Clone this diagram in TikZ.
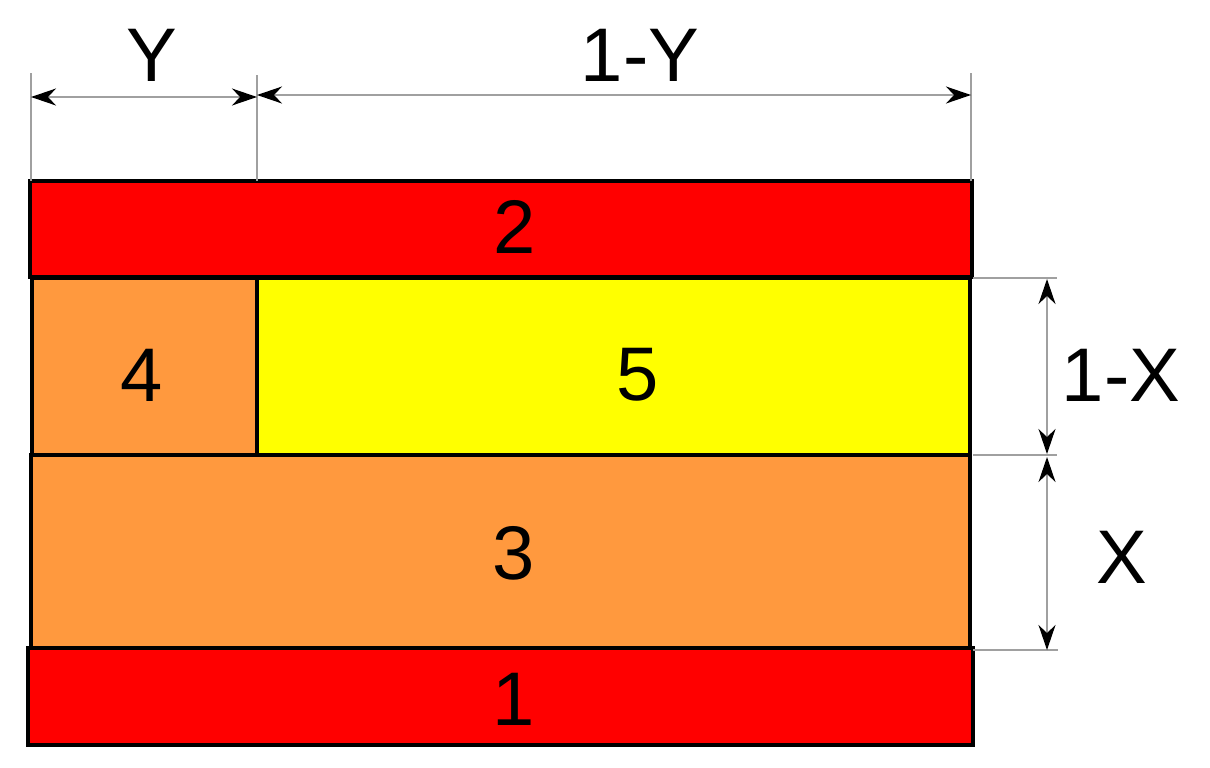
\documentclass[tikz,border=0pt]{standalone}
\usepackage{fontspec}
\setmainfont{Liberation Sans}
\usetikzlibrary{arrows.meta}
\definecolor{lred}{HTML}{FF0000}
\definecolor{lorange}{HTML}{FF993E}
\definecolor{lyellow}{HTML}{FFFF00}
\definecolor{dimgray}{HTML}{A0A0A0}
\begin{document}
\begin{tikzpicture}[x=0.5pt,y=-0.5pt,
  layer/.style={draw=black,line width=2.4pt,inner sep=0pt,outer sep=0pt,anchor=north west},
  lbl/.style={inner sep=0pt,font=\fontsize{38}{44}\selectfont},
  extline/.style={draw=dimgray,line width=0.75pt},
  dimarrow/.style={draw=dimgray,line width=0.75pt,{Stealth[black,length=12.5pt,width=8.5pt,inset=4pt]}-{Stealth[black,length=12.5pt,width=8.5pt,inset=4pt]}}]
\useasboundingbox (0,0) rectangle (1210,767);
% layers
\node[layer,fill=lorange,minimum width=469.5pt,minimum height=96.5pt] (r3) at (31,455) {};
\node[layer,fill=lorange,minimum width=112.5pt,minimum height=88.5pt] (r4) at (32,278) {};
\node[layer,fill=lyellow,minimum width=356.5pt,minimum height=88.5pt] (r5) at (257,278) {};
\node[layer,fill=lred,minimum width=471pt,minimum height=48pt] (r2) at (30,181) {};
\node[layer,fill=lred,minimum width=472.5pt,minimum height=48.5pt] (r1) at (28,648) {};
% labels
\node[lbl] (l2) at (515,226.5) {2};
\node[lbl] (l4) at (142,375) {4};
\node[lbl] (l5) at (638,375) {5};
\node[lbl] (l3) at (514,553) {3};
\node[lbl] (l1) at (514,699) {1};
\node[lbl] (ly) at (152,55) {Y};
\node[lbl] (l1y) at (640,55) {1-Y};
\node[lbl] (l1x) at (1121,375) {1-X};
\node[lbl] (lx) at (1122,557) {X};
% extension line coordinates
\coordinate (ea1) at (31,73);   \coordinate (ea2) at (31,181);
\coordinate (eb1) at (257,75);  \coordinate (eb2) at (257,181);
\coordinate (ec1) at (971,73);  \coordinate (ec2) at (971,181);
\coordinate (ed1) at (973,278); \coordinate (ed2) at (1057,278);
\coordinate (ee1) at (973,455); \coordinate (ee2) at (1057,455);
\coordinate (ef1) at (973,650); \coordinate (ef2) at (1058,650);
\draw[extline] (ea1) -- (ea2);
\draw[extline] (eb1) -- (eb2);
\draw[extline] (ec1) -- (ec2);
\draw[extline] (ed1) -- (ed2);
\draw[extline] (ee1) -- (ee2);
\draw[extline] (ef1) -- (ef2);
% dimension arrows
\coordinate (ya) at (31,97);   \coordinate (yb) at (257,97);
\coordinate (za) at (257,95);  \coordinate (zb) at (971,95);
\coordinate (xa) at (1047,279); \coordinate (xb) at (1047,454);
\coordinate (wa) at (1047,457); \coordinate (wb) at (1047,650);
\draw[dimarrow] (ya) -- (yb);
\draw[dimarrow] (za) -- (zb);
\draw[dimarrow] (xa) -- (xb);
\draw[dimarrow] (wa) -- (wb);
\end{tikzpicture}
\end{document}
